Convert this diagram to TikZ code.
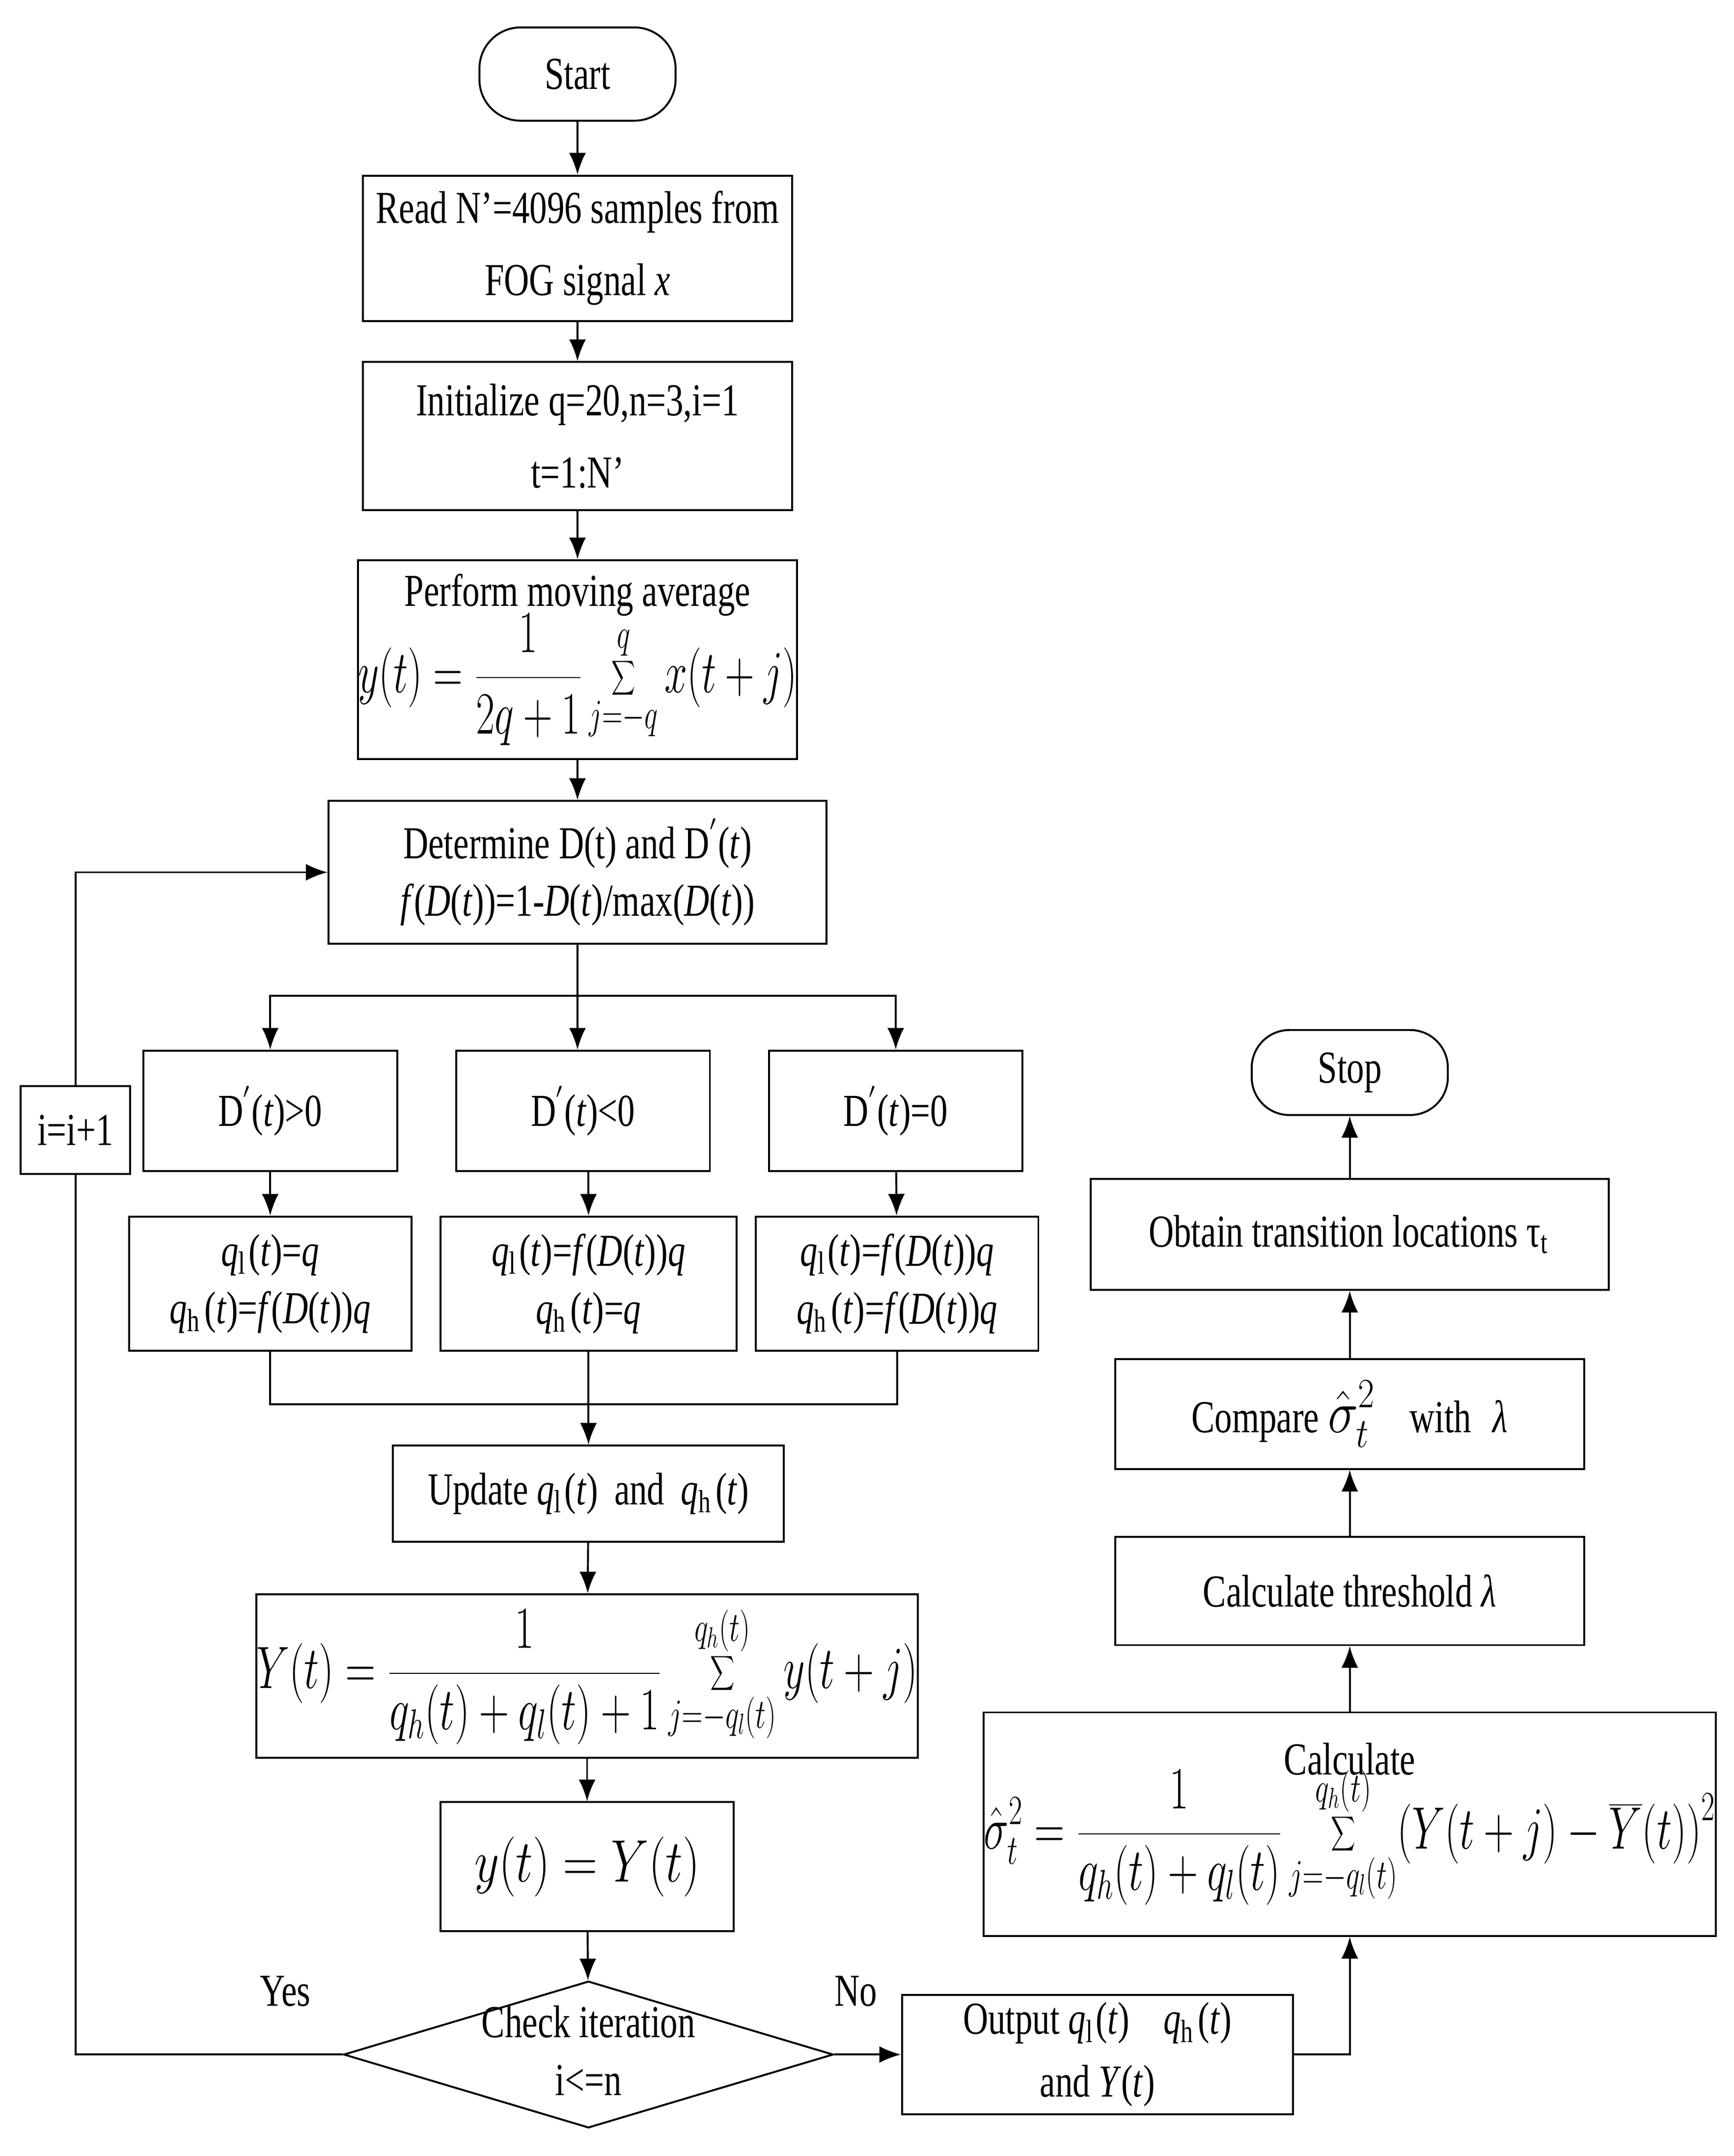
\documentclass[tikz,border=0pt]{standalone}
\usepackage{fontspec}
\setmainfont{Liberation Serif}[FakeStretch=0.76]
\usetikzlibrary{shapes.geometric,arrows.meta}
\newcommand{\myformula}[2]{\scalebox{#1}[1]{\fontsize{25}{30}\selectfont$\displaystyle #2$}}
\begin{document}
\begin{tikzpicture}[x=0.02cm,y=-0.02cm,
  font=\fontsize{19}{24}\selectfont,
  box/.style={draw,thick,align=center,inner sep=0pt},
  arr/.style={thick,-{Latex[length=9pt,width=7pt]}},
  ln/.style={thick}]
\useasboundingbox (0,0) rectangle (1264,1572);
\node[box,rounded corners=0.6cm,minimum width=2.86cm,minimum height=1.36cm] (start) at (421,54) {Start};
\node[box,minimum width=6.26cm,minimum height=2.12cm] (read) at (421,181) {Read N’=4096 samples from\\[6pt] FOG signal \textit{x}};
\node[box,minimum width=6.26cm,minimum height=2.16cm] (init) at (421,318) {Initialize q=20,n=3,i=1\\[6pt] t=1:N’};
\node[box,minimum width=6.26cm,minimum height=2.9cm] (perf) at (421,481) {Perform moving average\\[-2pt] \myformula{0.68}{y(t)=\frac{1}{2q+1}\sum_{j=-q}^{q}x(t+j)}};
\node[box,minimum width=7.26cm,minimum height=2.08cm] (det) at (421,636) {Determine D(t) and D$^{'}$(\textit{t})\\ \textit{f}(\textit{D}(\textit{t}))=1-\textit{D}(\textit{t})/max(\textit{D}(\textit{t}))};
\node[box,minimum width=3.7cm,minimum height=1.76cm] (d1) at (197,810) {D$^{'}$(\textit{t})>0};
\node[box,minimum width=3.7cm,minimum height=1.76cm] (d2) at (425,810) {D$^{'}$(\textit{t})<0};
\node[box,minimum width=3.7cm,minimum height=1.76cm] (d3) at (653,810) {D$^{'}$(\textit{t})=0};
\node[box,minimum width=4.12cm,minimum height=1.96cm] (q1) at (197,936) {\textit{q}$_\mathrm{l}$(\textit{t})=\textit{q}\\ \textit{q}$_\mathrm{h}$(\textit{t})=\textit{f}(\textit{D}(\textit{t}))\textit{q}};
\node[box,minimum width=4.32cm,minimum height=1.96cm] (q2) at (429,936) {\textit{q}$_\mathrm{l}$(\textit{t})=\textit{f}(\textit{D}(\textit{t}))\textit{q}\\ \textit{q}$_\mathrm{h}$(\textit{t})=\textit{q}};
\node[box,minimum width=4.12cm,minimum height=1.96cm] (q3) at (654,936) {\textit{q}$_\mathrm{l}$(\textit{t})=\textit{f}(\textit{D}(\textit{t}))\textit{q}\\ \textit{q}$_\mathrm{h}$(\textit{t})=\textit{f}(\textit{D}(\textit{t}))\textit{q}};
\node[box,minimum width=5.7cm,minimum height=1.4cm] (upd) at (429,1089) {Update \textit{q}$_\mathrm{l}$(\textit{t})\, and\, \textit{q}$_\mathrm{h}$(\textit{t})};
\node[box,minimum width=8.98cm,minimum height=2.38cm] (Y) at (428,1222) {\myformula{0.7}{Y(t)=\frac{1}{q_h(t)+q_l(t)+1}\sum_{j=-q_l(t)}^{q_h(t)}y(t+j)}};
\node[box,minimum width=4.28cm,minimum height=1.88cm] (yY) at (428,1361) {\myformula{0.8}{y(t)=Y(t)}};
\node[draw,thick,diamond,aspect=3.34,minimum width=7.14cm,minimum height=2.14cm,inner sep=0pt,align=center] (chk) at (429,1498) {\raisebox{0pt}[10pt][4pt]{Check iteration}\\ i<=n};
\node[box,minimum width=1.6cm,minimum height=1.28cm] (inc) at (55,824) {i=i+1};
\node[box,minimum width=5.7cm,minimum height=1.74cm] (out) at (800,1498) {Output \textit{q}$_\mathrm{l}$(\textit{t})\;\; \textit{q}$_\mathrm{h}$(\textit{t})\\[2pt] and \textit{Y}(\textit{t})};
\node[box,minimum width=10.12cm,minimum height=3.26cm] (calc) at (984,1330) {Calculate\\[-4pt] \myformula{0.7}{\hat{\sigma}_t^2=\frac{1}{q_h(t)+q_l(t)}\sum_{j=-q_l(t)}^{q_h(t)}\bigl(Y(t+j)-\overline{Y}(t)\bigr)^2}};
\node[box,minimum width=6.84cm,minimum height=1.58cm] (thr) at (984,1160) {Calculate threshold \textit{λ}};
\node[box,minimum width=6.84cm,minimum height=1.6cm] (cmp) at (984,1031) {Compare \myformula{0.85}{\hat{\sigma}_t^2}\;\; with\; \textit{λ}};
\node[box,minimum width=7.56cm,minimum height=1.62cm] (obt) at (984,900) {Obtain transition locations τ$_\mathrm{t}$};
\node[box,rounded corners=0.55cm,minimum width=2.86cm,minimum height=1.24cm] (stop) at (984,782) {Stop};
\node at (208,1452) {Yes};
\node at (624,1452) {No};
\coordinate (br) at (421,726);
\coordinate (mg) at (429,1024);
\draw[arr] (start) -- (read);
\draw[arr] (read) -- (init);
\draw[arr] (init) -- (perf);
\draw[arr] (perf) -- (det);
\draw[ln] (det.south) -- (br);
\draw[arr] (br) -| (d1.north);
\draw[arr] (br) -| (d3.north);
\draw[arr] (br) -- (br|-d2.north);
\draw[arr] (d1) -- (q1);
\draw[arr] (d2.south-|q2) -- (q2);
\draw[arr] (d3) -- (q3);
\draw[ln] (q1.south) |- (mg) -| (q3.south);
\draw[arr] (q2.south) -- (upd);
\draw[arr] (upd) -- (Y);
\draw[arr] (Y) -- (yY);
\draw[arr] (yY) -- (chk);
\draw[ln] (chk.west) -| (inc.south);
\draw[arr] (inc.north) |- (det.west);
\draw[arr] (chk.east) -- (out.west);
\draw[arr] (out.east) -| (calc.south);
\draw[arr] (calc) -- (thr);
\draw[arr] (thr) -- (cmp);
\draw[arr] (cmp) -- (obt);
\draw[arr] (obt) -- (stop);
\end{tikzpicture}
\end{document}
